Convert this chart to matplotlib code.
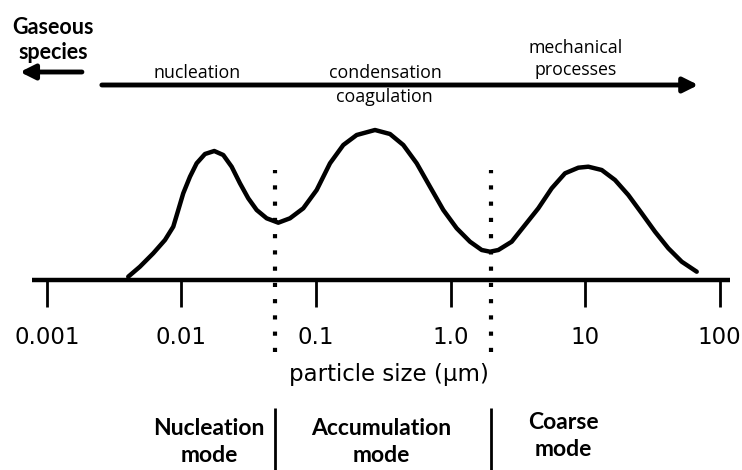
import numpy as np
import matplotlib
matplotlib.use("Agg")
import matplotlib.pyplot as plt

# particle size distribution (schematic), size in um, height in arbitrary units
size_um = [0.00402, 0.00491, 0.00617, 0.00754, 0.00869, 0.00947, 0.01031, 0.01157,
           0.01297, 0.01495, 0.01753, 0.02045, 0.02361, 0.02722, 0.03137, 0.03623,
           0.04299, 0.05245, 0.06408, 0.08045, 0.1012, 0.1271, 0.1596, 0.2007,
           0.2746, 0.3549, 0.4457, 0.5607, 0.7039, 0.8841, 1.112, 1.396,
           1.706, 1.967, 2.267, 2.851, 3.580, 4.496, 5.655, 7.101,
           8.918, 10.58, 13.31, 16.71, 20.98, 26.40, 33.14, 41.63,
           52.36, 67.68]
height = [3.3, 13.3, 26.7, 40, 53.3, 70, 86.7, 103.3,
          116.7, 126, 129, 125, 113.3, 96.7, 81.7, 70,
          61.7, 57.3, 61.7, 71.7, 90, 116.7, 135, 145,
          150, 146, 135, 116.7, 93.3, 70, 51.7, 38.3,
          30, 28.3, 30, 38.3, 55, 71.7, 91.7, 106.7,
          112.3, 113.3, 110, 100, 85, 66.7, 48.3, 31.7,
          18.3, 8.3]

tick_vals = [0.001, 0.01, 0.1, 1.0, 10, 100]
tick_labels = ["0.001", "0.01", "0.1", "1.0", "10", "100"]
mode_bounds = [0.05, 2.0]
mode_names = ["Nucleation\nmode", "Accumulation\nmode", "Coarse\nmode"]
mode_centers = [0.016, 0.304, 6.86]
process_names = ["nucleation", "condensation", "coagulation", "mechanical\nprocesses"]

plt.rcParams["font.family"] = ["Open Sans", "DejaVu Sans"]
bold_font = ["Lato", "DejaVu Sans"]

fig = plt.figure(figsize=(7.42, 4.70), dpi=100)
ax = fig.add_axes([0, 0, 1, 1])
ax.set_xscale("log")
ax.set_xlim(10 ** -3.349, 10 ** 2.167)
ax.set_ylim(-190, 280)
ax.axis("off")

# size axis
ax.plot([0.000773, 119.7], [0, 0], color="black", lw=3.2, solid_capstyle="butt")
ax.vlines(tick_vals, -27, 0, color="black", lw=2)
for v, lab in zip(tick_vals, tick_labels):
    ax.text(v, -57, lab, ha="center", va="center", fontsize=16.5, family="DejaVu Sans")
ax.text(0.35, -95, "particle size (\u03bcm)", ha="center", va="center",
        fontsize=16.5, family="DejaVu Sans")

# distribution curve
ax.plot(size_um, height, color="black", lw=3.2, solid_joinstyle="round",
        solid_capstyle="round")

# mode boundaries
ax.vlines(mode_bounds, -72, 110, color="black", lw=3, linestyles=(0, (1, 2.9)))
ax.vlines(mode_bounds, -190, -128, color="black", lw=2)

# process arrows
ax.annotate("", xy=(69.5, 195), xytext=(0.00256, 195),
            arrowprops=dict(arrowstyle="-|>", lw=3.5, color="black",
                            mutation_scale=22, shrinkA=0, shrinkB=0))
ax.annotate("", xy=(0.00063, 208), xytext=(0.00182, 208),
            arrowprops=dict(arrowstyle="-|>", lw=3.5, color="black",
                            mutation_scale=22, shrinkA=0, shrinkB=0))

ax.text(0.00111, 240, "Gaseous\nspecies", ha="center", va="center",
        fontsize=15.5, fontweight="bold", family=bold_font, linespacing=1.25)
ax.text(0.0130, 207, process_names[0], ha="center", va="center", fontsize=12.8)
ax.text(0.326, 207, process_names[1], ha="center", va="center", fontsize=12.8)
ax.text(0.324, 183, process_names[2], ha="center", va="center", fontsize=12.8)
ax.text(8.57, 221, process_names[3], ha="center", va="center", fontsize=12.8,
        linespacing=1.3)

for c, name, yy in zip(mode_centers, mode_names, [-162, -162, -156]):
    ax.text(c, yy, name, ha="center", va="center", fontsize=16.5,
            fontweight="bold", family=bold_font, linespacing=1.3)

fig.savefig("out.png", dpi=100)
